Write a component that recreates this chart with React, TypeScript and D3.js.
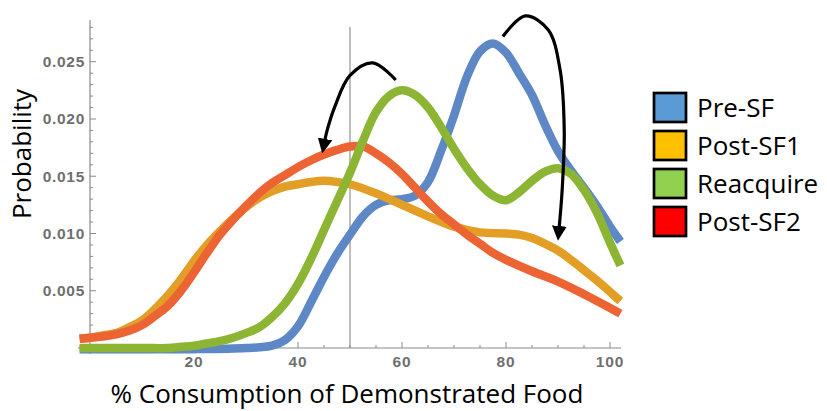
import { useRef, useEffect } from 'react'
import * as d3 from 'd3'

// % consumption grid (x values) and density per group
const xPre = [-2, 0, 10, 20, 30, 35, 37.5, 40, 42.5, 45, 47.5, 50, 52.5, 55, 57.5, 60, 62.5, 65, 67.5, 70, 72.5, 75, 77.5, 80, 82.5, 85, 87.5, 90, 92.5, 95, 97.5, 100, 102];
const preSF = [-0.0001, -0.0001, -0.0001, -0.0001, 0.0000, 0.0002, 0.0007, 0.0019, 0.0040, 0.0062, 0.0082, 0.0099, 0.0115, 0.0125, 0.0129, 0.0130, 0.0133, 0.0145, 0.0172, 0.0203, 0.0237, 0.0259, 0.0266, 0.0258, 0.0240, 0.0221, 0.0195, 0.0172, 0.0155, 0.0140, 0.0124, 0.0106, 0.0093];

const xReacq = [-2, 0, 10, 15, 17.5, 20, 22.5, 25, 27.5, 30, 32.5, 35, 37.5, 40, 42.5, 45, 47.5, 50, 52.5, 55, 57.5, 60, 62.5, 65, 67.5, 70, 72.5, 75, 77.5, 80, 82.5, 85, 87.5, 90, 92.5, 95, 97.5, 100, 102];
const reacquire = [0.0000, 0.0000, 0.0000, 0.0000, 0.0001, 0.0002, 0.0004, 0.0006, 0.0009, 0.0013, 0.0018, 0.0027, 0.0039, 0.0056, 0.0078, 0.0103, 0.0128, 0.0153, 0.0181, 0.0206, 0.0220, 0.0225, 0.0221, 0.0210, 0.0193, 0.0174, 0.0157, 0.0143, 0.0133, 0.0129, 0.0136, 0.0146, 0.0154, 0.0157, 0.0152, 0.0138, 0.0118, 0.0092, 0.0072];

const xPost1 = [-2, 0, 2.5, 5, 7.5, 10, 12.5, 15, 17.5, 20, 22.5, 25, 27.5, 30, 32.5, 35, 37.5, 40, 42.5, 45, 47.5, 50, 55, 60, 65, 70, 75, 80, 82.5, 85, 87.5, 90, 92.5, 95, 97.5, 100, 102];
const postSF1 = [0.0008, 0.0009, 0.0011, 0.0013, 0.0018, 0.0024, 0.0034, 0.0046, 0.0060, 0.0076, 0.0090, 0.0102, 0.0113, 0.0123, 0.0131, 0.0137, 0.0141, 0.0143, 0.0145, 0.0146, 0.0145, 0.0143, 0.0135, 0.0125, 0.0115, 0.0106, 0.0101, 0.0100, 0.0099, 0.0096, 0.0091, 0.0085, 0.0077, 0.0068, 0.0059, 0.0049, 0.0041];

const xPost2 = [-2, 0, 2.5, 5, 7.5, 10, 12.5, 15, 17.5, 20, 22.5, 25, 27.5, 30, 32.5, 35, 37.5, 40, 42.5, 45, 47.5, 50, 52.5, 55, 57.5, 60, 62.5, 65, 67.5, 70, 72.5, 75, 77.5, 80, 85, 90, 95, 100, 102];
const postSF2 = [0.0008, 0.0009, 0.0010, 0.0012, 0.0015, 0.0020, 0.0028, 0.0037, 0.0050, 0.0066, 0.0083, 0.0099, 0.0112, 0.0124, 0.0135, 0.0144, 0.0151, 0.0158, 0.0164, 0.0169, 0.0173, 0.0176, 0.0176, 0.0170, 0.0162, 0.0152, 0.0140, 0.0128, 0.0117, 0.0108, 0.0099, 0.0091, 0.0083, 0.0077, 0.0067, 0.0058, 0.0047, 0.0035, 0.0030];

const legendNames = ["Pre-SF", "Post-SF1", "Reacquire", "Post-SF2"];
const legendColors = ["#5b9bd5", "#ffc000", "#92d050", "#ff0000"];

const xTicks = [20, 40, 60, 80, 100];
const yTicks = [0.005, 0.010, 0.015, 0.020, 0.025];

// arrows (annotation), in data units
const arrowLeft = [[58.8, 0.0234], [54.4, 0.0249], [50, 0.0238], [47.1, 0.0211], [45.6, 0.0190], [45.1, 0.0180]];
const arrowRight = [[79.4, 0.0272], [83.7, 0.0290], [88.1, 0.0278], [90.4, 0.0243], [91.2, 0.0190], [90.8, 0.0138], [90.2, 0.0104]];

const App = () => {
    const svgRef = useRef();

    useEffect(() => {
        document.body.style.margin = "0";
        draw();
    }, []);

    const draw = () => {
        const width = 827;
        const height = 411;
        const svg = d3.select(svgRef.current).attr("width", width).attr("height", height);
        svg.selectAll("*").remove();

        const x = d3.scaleLinear().domain([-2, 102]).range([79.6, 620.4]);
        const y = d3.scaleLinear().domain([0, 0.0286]).range([348, 20.5]);

        const axisCol = "#8a8a8a";
        const font = "'Open Sans', sans-serif";

        // vertical reference line at 50%
        svg.append("line")
            .attr("x1", x(50)).attr("x2", x(50))
            .attr("y1", 27).attr("y2", y(0))
            .attr("stroke", "#a8a8a8").attr("stroke-width", 1.5);

        // y-akseli
        const yAxis = svg.append("g");
        yAxis.append("line")
            .attr("x1", x(0)).attr("x2", x(0))
            .attr("y1", 20).attr("y2", 354)
            .attr("stroke", axisCol).attr("stroke-width", 1.2);
        const minorY = d3.range(1, 29).map(d => d * 0.001);
        yAxis.selectAll("line.minor")
            .data(minorY)
            .join("line")
            .attr("class", "minor")
            .attr("x1", x(0)).attr("x2", d => x(0) + (Math.round(d * 1000) % 5 === 0 ? 6 : 3))
            .attr("y1", d => y(d)).attr("y2", d => y(d))
            .attr("stroke", axisCol).attr("stroke-width", 1);
        yAxis.selectAll("text")
            .data(yTicks)
            .join("text")
            .text(d => d3.format(".3f")(d))
            .attr("x", x(0) - 5)
            .attr("y", d => y(d) + 5.5)
            .attr("text-anchor", "end")
            .attr("fill", "#6f6f6f")
            .attr("font-family", "Liberation Sans, Arial, sans-serif")
            .attr("font-weight", "bold")
            .attr("letter-spacing", "0.7px")
            .attr("font-size", "15.5px");

        // x-akseli
        const xAxis = svg.append("g");
        xAxis.append("line")
            .attr("x1", 78).attr("x2", 621)
            .attr("y1", y(0)).attr("y2", y(0))
            .attr("stroke", axisCol).attr("stroke-width", 1.2);
        const minorX = d3.range(5, 101, 5);
        xAxis.selectAll("line.minor")
            .data(minorX)
            .join("line")
            .attr("class", "minor")
            .attr("x1", d => x(d)).attr("x2", d => x(d))
            .attr("y1", y(0)).attr("y2", d => y(0) - (d % 20 === 0 ? 6 : 3))
            .attr("stroke", axisCol).attr("stroke-width", 1);
        xAxis.selectAll("text")
            .data(xTicks)
            .join("text")
            .text(d => d)
            .attr("x", d => x(d))
            .attr("y", 367)
            .attr("text-anchor", "middle")
            .attr("fill", "#6f6f6f")
            .attr("font-family", "Liberation Sans, Arial, sans-serif")
            .attr("font-weight", "bold")
            .attr("letter-spacing", "0.8px")
            .attr("font-size", "15.5px");

        // käyrät
        const series = [
            { xs: xPre, ys: preSF, color: "#5d88c5" },
            { xs: xPost1, ys: postSF1, color: "#e39e25" },
            { xs: xPost2, ys: postSF2, color: "#ec6434" },
            { xs: xReacq, ys: reacquire, color: "#8db534" },
        ];
        const line = d3.line().x(d => x(d[0])).y(d => y(d[1])).curve(d3.curveCatmullRom.alpha(0.5));
        svg.append("g")
            .selectAll("path")
            .data(series)
            .join("path")
            .attr("d", s => line(s.xs.map((v, i) => [v, s.ys[i]])))
            .attr("fill", "none")
            .attr("stroke", s => s.color)
            .attr("stroke-width", 8.5)
            .attr("stroke-linejoin", "round");

        // nuolet
        svg.append("defs").append("marker")
            .attr("id", "head")
            .attr("viewBox", "0 0 10 10")
            .attr("refX", 2).attr("refY", 5)
            .attr("markerWidth", 4.6).attr("markerHeight", 4.6)
            .attr("orient", "auto")
            .append("path")
            .attr("d", "M0,0 L10,5 L0,10 Z")
            .attr("fill", "#000");
        const arrowLine = d3.line().x(d => x(d[0])).y(d => y(d[1])).curve(d3.curveCatmullRom);
        svg.append("g")
            .selectAll("path")
            .data([arrowLeft, arrowRight])
            .join("path")
            .attr("d", d => arrowLine(d))
            .attr("fill", "none")
            .attr("stroke", "#000")
            .attr("stroke-width", 3.2)
            .attr("marker-end", "url(#head)");

        // akselien otsikot
        svg.append("text")
            .text("% Consumption of Demonstrated Food")
            .attr("x", 347).attr("y", 403)
            .attr("text-anchor", "middle")
            .attr("font-family", font)
            .attr("font-size", "26px")
            .attr("fill", "#000");
        svg.append("text")
            .text("Probability")
            .attr("transform", "translate(31,154) rotate(-90)")
            .attr("text-anchor", "middle")
            .attr("font-family", font)
            .attr("font-size", "26px")
            .attr("fill", "#000");

        // selite
        const legend = svg.append("g");
        legend.selectAll("rect")
            .data(legendNames)
            .join("rect")
            .attr("x", 654).attr("y", (d, i) => 93 + i * 38)
            .attr("width", 32).attr("height", 29)
            .attr("fill", (d, i) => legendColors[i])
            .attr("stroke", "#000").attr("stroke-width", 2.7);
        legend.selectAll("text")
            .data(legendNames)
            .join("text")
            .text(d => d)
            .attr("x", 697).attr("y", (d, i) => 117 + i * 38)
            .attr("font-family", font)
            .attr("font-size", "26px")
            .attr("fill", "#000");
    }

    return <svg ref={svgRef} style={{ display: "block" }}></svg>;
}

export default App;
